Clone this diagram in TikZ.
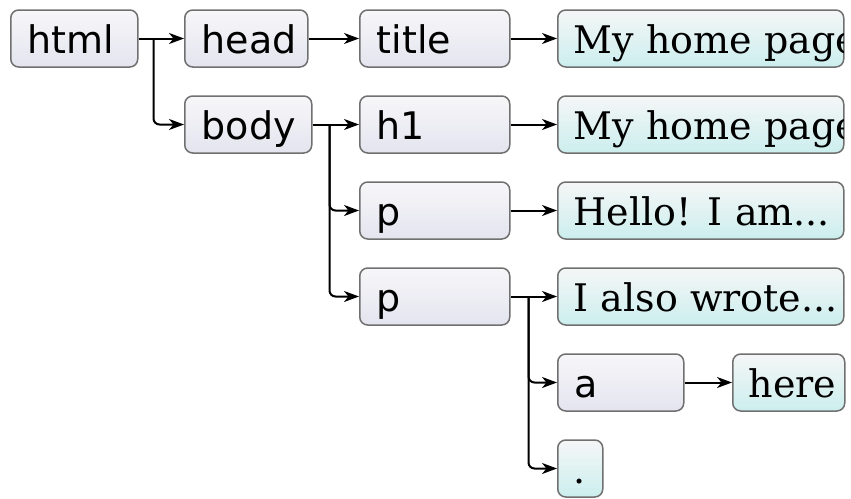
\documentclass[tikz,border=0pt]{standalone}
\usepackage{fontspec}
\setmainfont{DejaVu Serif}
\setsansfont{DejaVu Sans}
\usetikzlibrary{arrows.meta}
\definecolor{tagtop}{RGB}{247,247,249}
\definecolor{tagbot}{RGB}{228,228,239}
\definecolor{txttop}{RGB}{245,246,246}
\definecolor{txtbot}{RGB}{204,238,238}
\definecolor{bordergrey}{RGB}{112,112,112}
\newcommand\lbox[2]{\hbox to #1{#2\hss}}
\tikzset{
  box/.style={draw=bordergrey, line width=1.5pt, rounded corners=8pt,
    minimum height=57pt, inner ysep=0pt, text height=33.5pt, text depth=3.5pt, anchor=west},
  tag/.style={box, top color=tagtop, bottom color=tagbot,
    font=\sffamily\fontsize{38}{40}\selectfont, inner xsep=17pt},
  txt/.style={box, top color=txttop, bottom color=txtbot,
    font=\fontsize{38}{40}\selectfont, inner xsep=16pt},
  cliptext/.style={anchor=base west, inner sep=0pt, font=\fontsize{38}{40}\selectfont},
  conn/.style={line width=2pt, -{Stealth[length=15pt,width=11pt,inset=4.5pt]}},
  elbow/.style={conn, rounded corners=6pt},
}
\begin{document}
\begin{tikzpicture}[x=1pt,y=1pt]
\useasboundingbox (0,0) rectangle (851,-498);
% row 1
\node[tag] (html) at (10,-38.5) {\lbox{93pt}{html}};
\node[tag] (head) at (184,-38.5) {\lbox{89pt}{head}};
\node[tag] (title) at (359,-38.5) {\lbox{116pt}{title}};
\node[txt] (t1) at (557,-38.5) {\lbox{254pt}{}};
\begin{scope}
  \clip ([shift={(1.5pt,1.5pt)}]t1.south west) rectangle ([shift={(-1.5pt,-1.5pt)}]t1.north east);
  \node[cliptext] (t1text) at ([xshift=16.75pt,yshift=-15pt]t1.west) {My home page};
\end{scope}
% row 2
\node[tag] (body) at (184,-124.5) {\lbox{93pt}{body}};
\node[tag] (h1) at (359,-124.5) {\lbox{116pt}{h1}};
\node[txt] (t2) at (557,-124.5) {\lbox{254pt}{}};
\begin{scope}
  \clip ([shift={(1.5pt,1.5pt)}]t2.south west) rectangle ([shift={(-1.5pt,-1.5pt)}]t2.north east);
  \node[cliptext] (t2text) at ([xshift=16.75pt,yshift=-15pt]t2.west) {My home page};
\end{scope}
% row 3
\node[tag] (p1) at (359,-210.5) {\lbox{116pt}{p}};
\node[txt] (t3) at (557,-210.5) {\lbox{254pt}{Hello! I am...}};
% row 4
\node[tag] (p2) at (359,-296.5) {\lbox{116pt}{p}};
\node[txt] (t4) at (557,-296.5) {\lbox{254pt}{I also wrote...}};
% row 5
\node[tag] (a) at (557,-382.5) {\lbox{92pt}{a}};
\node[txt] (here) at (732,-382.5) {\lbox{80pt}{here}};
% row 6
\node[txt] (dot) at (557,-468.5) {\lbox{13pt}{.}};
% connectors
\draw[conn] (html.east) -- (head.west);
\draw[elbow] ([xshift=15pt]html.east) |- (body.west);
\draw[conn] (head.east) -- (title.west);
\draw[conn] (title.east) -- (t1.west);
\draw[conn] (body.east) -- (h1.west);
\draw[conn] (h1.east) -- (t2.west);
\draw[elbow] ([xshift=17pt]body.east) |- (p1.west);
\draw[elbow] ([xshift=17pt]body.east) |- (p2.west);
\draw[conn] (p1.east) -- (t3.west);
\draw[conn] (p2.east) -- (t4.west);
\draw[elbow] ([xshift=18pt]p2.east) |- (a.west);
\draw[elbow] ([xshift=18pt]p2.east) |- (dot.west);
\draw[conn] (a.east) -- (here.west);
\end{tikzpicture}
\end{document}
